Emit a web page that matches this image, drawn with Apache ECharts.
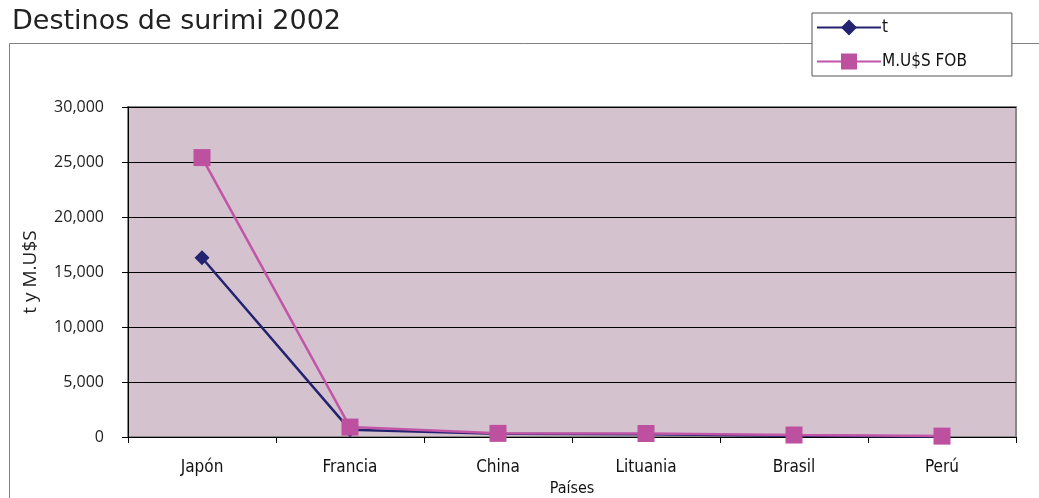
<!DOCTYPE html>
<html><head><meta charset="utf-8">
<script src="https://cdn.jsdelivr.net/npm/echarts@6/dist/echarts.min.js"></script>
<style>html,body{margin:0;padding:0;background:#fff}#c{width:1039px;height:498px}</style>
</head><body><div id="c"></div>
<script>
const categories = ['Japón','Francia','China','Lituania','Brasil','Perú'];
const seriesT = [16300, 650, 300, 250, 120, 40];
const seriesUSD = [25400, 900, 330, 320, 180, 80];
const yTicks = [0, 5000, 10000, 15000, 20000, 25000, 30000];

const chart = echarts.init(document.getElementById('c'));
chart.setOption({
  animation: false,
  backgroundColor: '#fff',
  title: {
    text: 'Destinos de surimi 2002', left: 7, top: 3,
    textStyle: {fontFamily: 'DejaVu Sans', fontSize: 27, fontWeight: 'normal', color: '#222'}
  },
  graphic: [{
    type: 'rect', z: -1, silent: true,
    shape: {x: 9.5, y: 43.5, width: 1100, height: 500},
    style: {fill: 'none', stroke: '#808080', lineWidth: 1}
  }],
  legend: {
    left: 812, top: 13, width: 199, orient: 'vertical',
    backgroundColor: '#fff', borderColor: '#555', borderWidth: 1,
    padding: [6, 45, 6, 4], itemGap: 17, itemWidth: 64, itemHeight: 20,
    textStyle: {fontFamily: 'DejaVu Sans Condensed', fontSize: 17, color: '#111', padding: [0,0,0,-4]},
    data: ['t', 'M.U$S FOB']
  },
  grid: {left: 128, right: 23, top: 107, bottom: 61, show: true, outerBoundsMode: 'none',
    backgroundColor: '#D4C2CF', borderColor: '#888', borderWidth: 2},
  xAxis: {
    type: 'category', data: categories, boundaryGap: true,
    name: 'Países', nameLocation: 'middle', nameGap: 44,
    nameTextStyle: {fontFamily: 'DejaVu Sans Condensed', fontSize: 16, color: '#111'},
    axisLine: {lineStyle: {color: '#000', width: 1}},
    axisTick: {show: true, length: 6, lineStyle: {color: '#000'}, alignWithLabel: false},
    axisLabel: {margin: 22, fontFamily: 'DejaVu Sans Condensed', fontSize: 17, color: '#111'}
  },
  yAxis: {
    type: 'value', min: 0, max: 30000, interval: 5000,
    name: 't y M.U$S', nameLocation: 'middle', nameGap: 88, nameRotate: 90,
    nameTextStyle: {fontFamily: 'Open Sans', fontSize: 19, color: '#222'},
    axisLine: {show: true, lineStyle: {color: '#000'}},
    axisTick: {show: true, length: 6, lineStyle: {color: '#000'}},
    splitLine: {lineStyle: {color: '#000', width: 1}},
    axisLabel: {margin: 24, fontFamily: 'Open Sans', fontSize: 16, color: '#222',
      formatter: v => yTicks.includes(v) ? v.toLocaleString('en-US') : ''}
  },
  series: [{
    name: 't', type: 'line', data: seriesT, symbol: 'diamond', symbolSize: 15,
    lineStyle: {color: '#23236F', width: 2.5}, itemStyle: {color: '#23236F'}, z: 2
  }, {
    name: 'M.U$S FOB', type: 'line', data: seriesUSD, symbol: 'rect', symbolSize: 17,
    lineStyle: {color: '#C255A8', width: 2.5}, itemStyle: {color: '#BE50A0'}, z: 3
  }]
});
</script></body></html>
